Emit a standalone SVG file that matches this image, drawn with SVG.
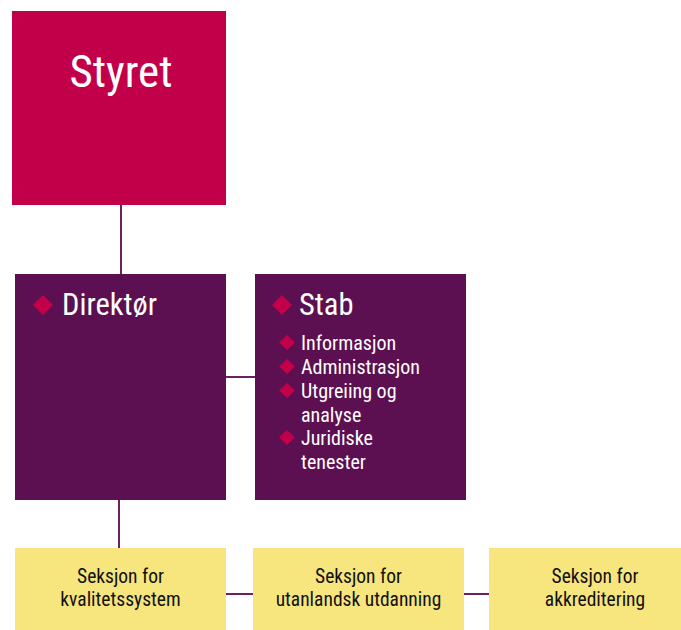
<svg xmlns="http://www.w3.org/2000/svg" width="681" height="630" viewBox="0 0 681 630">
<style>
text{font-family:"Liberation Sans Narrow","Roboto Condensed","Liberation Sans",sans-serif;}
.w{fill:#ffffff;}
.k{fill:#111111;font-size:19.5px;text-anchor:middle;}
.d{fill:#c2004a;}
.c{stroke:#6b2160;stroke-width:2;fill:none;}
</style>
<rect width="681" height="630" fill="#ffffff"/>
<g id="connectors">
<line class="c" x1="121" y1="205" x2="121" y2="274"/>
<line class="c" x1="226" y1="377" x2="255" y2="377"/>
<line class="c" x1="119" y1="500" x2="119" y2="548"/>
<line class="c" x1="226" y1="594" x2="253" y2="594"/>
<line class="c" x1="464" y1="594" x2="489" y2="594"/>
</g>
<g id="styret">
<rect x="12" y="11" width="214" height="194" fill="#c2004a"/>
<text class="w" x="121" y="87" font-size="45" text-anchor="middle">Styret</text>
</g>
<g id="direktor">
<rect x="15" y="274" width="211" height="226" fill="#5c1052"/>
<path class="d" d="M43 295 L53 305 L43 315 L33 305 Z"/>
<text class="w" x="62" y="315" font-size="30.5">Direktør</text>
</g>
<g id="stab">
<rect x="255" y="274" width="211" height="226" fill="#5c1052"/>
<path class="d" d="M282 295 L292 305 L282 315 L272 305 Z"/>
<text class="w" x="299" y="315" font-size="30.5">Stab</text>
<path class="d" d="M287 335 L295 342.5 L287 350 L279 342.5 Z"/>
<path class="d" d="M287 359 L295 366.5 L287 374 L279 366.5 Z"/>
<path class="d" d="M287 383 L295 390.5 L287 398 L279 390.5 Z"/>
<path class="d" d="M287 430 L295 437.5 L287 445 L279 437.5 Z"/>
<g class="w" font-size="20">
<text x="301" y="350">Informasjon</text>
<text x="301" y="374">Administrasjon</text>
<text x="301" y="398">Utgreiing og</text>
<text x="301" y="422">analyse</text>
<text x="301" y="445">Juridiske</text>
<text x="301" y="469">tenester</text>
</g>
</g>
<g id="seksjon-kvalitet">
<rect x="15" y="548" width="211" height="82" fill="#f7e57e"/>
<text class="k" x="120.5" y="583">Seksjon for</text>
<text class="k" x="120.5" y="606">kvalitetssystem</text>
</g>
<g id="seksjon-utanlandsk">
<rect x="253" y="548" width="211" height="82" fill="#f7e57e"/>
<text class="k" x="358.5" y="583">Seksjon for</text>
<text class="k" x="358.5" y="606">utanlandsk utdanning</text>
</g>
<g id="seksjon-akkreditering">
<rect x="489" y="548" width="192" height="82" fill="#f7e57e"/>
<text class="k" x="595" y="583">Seksjon for</text>
<text class="k" x="595" y="606">akkreditering</text>
</g>
</svg>
